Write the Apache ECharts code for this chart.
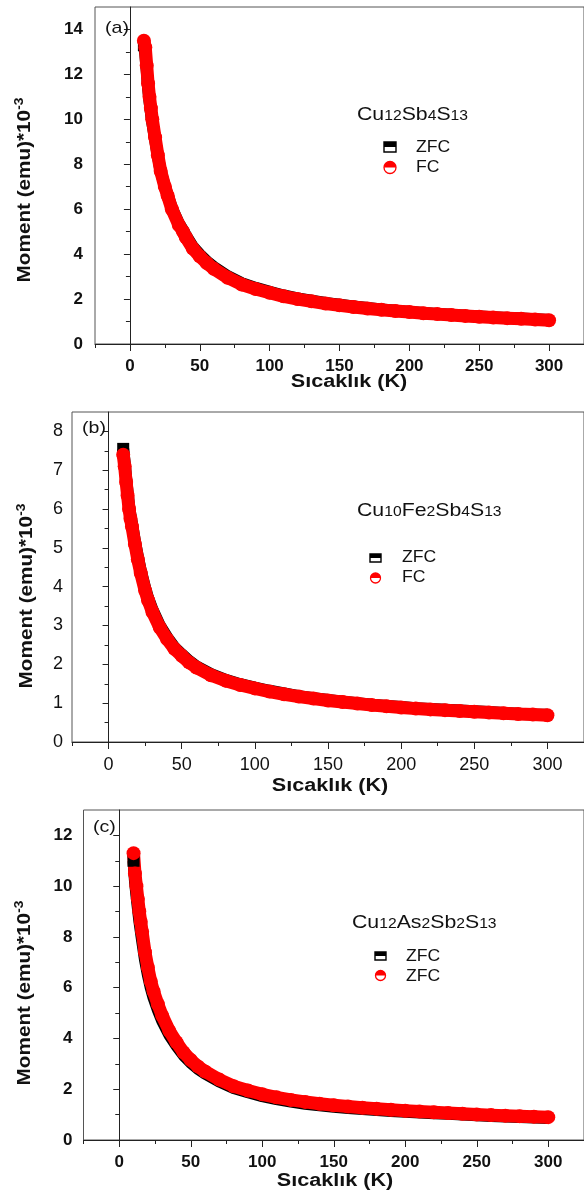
<!DOCTYPE html>
<html lang="en">
<head>
  <meta charset="UTF-8">
  <title>Moment - Sıcaklık</title>
  <script src="https://cdn.jsdelivr.net/npm/echarts@6/dist/echarts.min.js"></script>
  <style>html, body { margin: 0; padding: 0; background: #fff; }</style>
</head>
<body>
  <div id="main" style="width:584px;height:1198px"></div>
  <script>
    // tick values shared by the three panels (temperature, K)
    const xLabels = [0, 50, 100, 150, 200, 250, 300]
    const xMinor = [-25, 25, 75, 125, 175, 225, 275, 325]

    // (a) Cu12Sb4S13
    const tA = [10, 11, 12, 13, 14, 15, 16, 18, 20, 22, 25, 27, 30, 35, 38, 40, 45, 50, 55, 60, 70, 80, 90, 100, 110, 120, 130, 140, 150, 160, 170, 180, 190, 200, 210, 220, 230, 240, 250, 260, 270, 280, 290, 300]
    const zfcA = [13.3, 12.9, 12.2, 11.4, 10.8, 10.3, 9.85, 9.1, 8.35, 7.7, 7.02, 6.64, 6.06, 5.37, 5.07, 4.83, 4.33, 3.98, 3.68, 3.43, 3.02, 2.71, 2.5, 2.32, 2.16, 2.03, 1.93, 1.83, 1.75, 1.67, 1.6, 1.54, 1.48, 1.43, 1.38, 1.34, 1.3, 1.26, 1.22, 1.19, 1.16, 1.13, 1.1, 1.07]
    const fcA = [13.5, 13.2, 12.4, 11.6, 11.0, 10.5, 10.0, 9.2, 8.4, 7.7, 7.0, 6.6, 6.0, 5.3, 5.0, 4.75, 4.25, 3.9, 3.6, 3.35, 2.95, 2.65, 2.45, 2.28, 2.12, 2.0, 1.9, 1.8, 1.72, 1.65, 1.58, 1.52, 1.47, 1.42, 1.37, 1.33, 1.29, 1.25, 1.21, 1.18, 1.15, 1.12, 1.09, 1.06]
    const yLabelsA = [0, 2, 4, 6, 8, 10, 12, 14]
    const yMinorA = [1, 3, 5, 7, 9, 11, 13]

    // (b) Cu10Fe2Sb4S13
    const tB = [10, 11, 12, 13, 14, 15, 16, 18, 20, 22, 25, 27, 30, 35, 40, 45, 50, 55, 60, 70, 80, 90, 100, 110, 120, 130, 140, 150, 160, 170, 180, 190, 200, 210, 220, 230, 240, 250, 260, 270, 280, 290, 300]
    const zfcB = [7.55, 7.2, 6.8, 6.43, 6.08, 5.83, 5.63, 5.18, 4.78, 4.42, 3.97, 3.71, 3.41, 3.0, 2.7, 2.44, 2.26, 2.09, 1.95, 1.75, 1.6, 1.49, 1.4, 1.32, 1.25, 1.18, 1.13, 1.08, 1.04, 1.0, 0.96, 0.93, 0.9, 0.87, 0.85, 0.83, 0.81, 0.79, 0.77, 0.75, 0.73, 0.71, 0.7]
    const fcB = [7.4, 7.1, 6.7, 6.35, 6.0, 5.75, 5.55, 5.1, 4.7, 4.35, 3.9, 3.65, 3.35, 2.95, 2.65, 2.4, 2.22, 2.05, 1.92, 1.72, 1.58, 1.47, 1.38, 1.3, 1.23, 1.17, 1.12, 1.07, 1.03, 0.99, 0.95, 0.92, 0.89, 0.86, 0.84, 0.82, 0.8, 0.78, 0.76, 0.74, 0.72, 0.71, 0.69]
    const yLabelsB = [0, 1, 2, 3, 4, 5, 6, 7, 8]
    const yMinorB = [0.5, 1.5, 2.5, 3.5, 4.5, 5.5, 6.5, 7.5]

    // (c) Cu12As2Sb2S13
    const tC = [10, 11, 12, 13, 14, 15, 16, 18, 20, 22, 24, 27, 30, 35, 40, 45, 50, 55, 60, 70, 80, 90, 100, 110, 120, 130, 140, 150, 160, 170, 180, 190, 200, 210, 220, 230, 240, 250, 260, 270, 280, 290, 300]
    const zfcC = [11.0, 10.2, 9.65, 9.15, 8.65, 8.25, 7.85, 7.1, 6.5, 6.0, 5.6, 5.12, 4.7, 4.14, 3.72, 3.34, 3.05, 2.81, 2.62, 2.3, 2.05, 1.88, 1.73, 1.61, 1.51, 1.43, 1.37, 1.31, 1.26, 1.22, 1.18, 1.14, 1.11, 1.08, 1.05, 1.03, 1.0, 0.97, 0.95, 0.93, 0.91, 0.89, 0.87]
    const fcC = [11.3, 10.5, 10.0, 9.5, 9.0, 8.6, 8.2, 7.4, 6.8, 6.25, 5.85, 5.35, 4.9, 4.3, 3.85, 3.45, 3.15, 2.9, 2.7, 2.38, 2.12, 1.95, 1.8, 1.68, 1.58, 1.5, 1.43, 1.37, 1.32, 1.27, 1.23, 1.19, 1.15, 1.12, 1.09, 1.06, 1.03, 1.0, 0.98, 0.96, 0.94, 0.92, 0.9]
    const yLabelsC = [0, 2, 4, 6, 8, 10, 12]
    const yMinorC = [1, 3, 5, 7, 9, 11]

    const FONT = "'Liberation Sans', Arial, sans-serif"
    const panels = [
      { grid: { left: 95, top: 7, right: -3, bottom: 854 }, yMax: 15, yLab: yLabelsA, yMin: yMinorA,
        bold: true, fs: 17, yMargin: 12, xMargin: 14, t: tA, zfc: zfcA, fc: fcA },
      { grid: { left: 72, top: 412, right: -3, bottom: 456 }, yMax: 8.5, yLab: yLabelsB, yMin: yMinorB,
        bold: false, fs: 18, yMargin: 9, xMargin: 14, t: tB, zfc: zfcB, fc: fcB },
      { grid: { left: 83.5, top: 810, right: -3, bottom: 58 }, yMax: 13, yLab: yLabelsC, yMin: yMinorC,
        bold: true, fs: 17, yMargin: 11, xMargin: 14, t: tC, zfc: zfcC, fc: fcC }
    ]

    const grid = [], xAxis = [], yAxis = [], series = []
    panels.forEach((p, i) => {
      grid.push(Object.assign({ show: true, borderColor: '#555', borderWidth: 1 }, p.grid))
      const lab = { color: '#111', fontFamily: FONT, fontSize: p.fs, fontWeight: p.bold ? 'bold' : 'normal' }
      // main x axis + one with the short in-between ticks
      xAxis.push({
        type: 'value', gridIndex: i, min: -25, max: 325, position: 'bottom',
        axisLine: { lineStyle: { color: '#222', width: 1 } },
        axisTick: { length: 7, customValues: xLabels, lineStyle: { color: '#222' } },
        axisLabel: Object.assign({ customValues: xLabels, margin: p.xMargin }, lab),
        splitLine: { show: false }
      }, {
        type: 'value', gridIndex: i, min: -25, max: 325, position: 'bottom',
        axisLine: { show: false }, axisLabel: { show: false }, splitLine: { show: false },
        axisTick: { length: 4, customValues: xMinor, lineStyle: { color: '#222' } }
      })
      yAxis.push({
        type: 'value', gridIndex: i, min: 0, max: p.yMax, position: 'left',
        axisLine: { show: true, lineStyle: { color: '#222', width: 1 } },
        axisTick: { show: true, length: 6, customValues: p.yLab, lineStyle: { color: '#222' } },
        axisLabel: Object.assign({ customValues: p.yLab, margin: p.yMargin }, lab),
        splitLine: { show: false }
      }, {
        type: 'value', gridIndex: i, min: 0, max: p.yMax, position: 'left', offset: 0,
        axisLine: { show: false }, axisLabel: { show: false }, splitLine: { show: false },
        axisTick: { show: true, length: 4, customValues: p.yMin, lineStyle: { color: '#222' } }
      })
      // ZFC underneath as a thick black band (square marker only at the first point), FC on top in red
      series.push({
        name: 'ZFC', type: 'line', xAxisIndex: i * 2, yAxisIndex: i * 2,
        data: p.t.map((t, k) => k === 0 ? { value: [t, p.zfc[k]], symbol: 'rect' } : [t, p.zfc[k]]),
        symbol: 'none', symbolSize: 12, showAllSymbol: true,
        itemStyle: { color: '#000' },
        lineStyle: { color: '#000', width: 12, join: 'round' }
      }, {
        name: 'FC', type: 'line', xAxisIndex: i * 2, yAxisIndex: i * 2,
        data: p.t.map((t, k) => [t, p.fc[k]]),
        symbol: 'circle', symbolSize: 14, showAllSymbol: true,
        itemStyle: { color: '#ff0000' },
        lineStyle: { color: '#ff0000', width: 13, join: 'round' }
      })
    })

    // texts drawn on top: panel tags, formulas, legends, axis titles
    function txt(x, y, text, size, sx) {
      return {
        type: 'text', x: x, y: y, z: 100, scaleX: sx || 1,
        style: { text: text, fontFamily: FONT, fontSize: size, fill: '#111', textVerticalAlign: 'middle' }
      }
    }
    function formula(x, y, parts) {
      const text = parts.map((s, k) => k % 2 ? '{s|' + s + '}' : '{m|' + s + '}').join('')
      return {
        type: 'text', x: x, y: y, z: 100, scaleX: 1.12,
        style: {
          text: text, fill: '#111', textVerticalAlign: 'middle',
          rich: {
            m: { fontFamily: FONT, fontSize: 19, verticalAlign: 'bottom' },
            s: { fontFamily: FONT, fontSize: 14, verticalAlign: 'bottom', padding: [0, 0, 1, 0] }
          }
        }
      }
    }
    function zfcIcon(x, y, w, h) {
      return { type: 'group', z: 100, children: [
        { type: 'rect', shape: { x: x, y: y, width: w, height: h }, style: { fill: '#fff', stroke: '#000', lineWidth: 1.4 } },
        { type: 'rect', shape: { x: x, y: y, width: w, height: h / 2 }, style: { fill: '#000' } }
      ] }
    }
    function fcIcon(cx, cy, r) {
      return { type: 'group', z: 100, children: [
        { type: 'circle', shape: { cx: cx, cy: cy, r: r }, style: { fill: '#fff', stroke: '#ff0000', lineWidth: 1.3 } },
        { type: 'sector', shape: { cx: cx, cy: cy, r: r, startAngle: Math.PI, endAngle: Math.PI * 2 }, style: { fill: '#ff0000' } }
      ] }
    }
    function yTitle(x, y) {
      return {
        type: 'text', x: x, y: y, rotation: Math.PI / 2, scaleX: 1.15, z: 100,
        style: {
          text: '{m|Moment (emu)*10}{s|-3}', fill: '#111', textAlign: 'center', textVerticalAlign: 'middle',
          rich: {
            m: { fontFamily: FONT, fontSize: 18, fontWeight: 'bold', lineHeight: 22 },
            s: { fontFamily: FONT, fontSize: 12, fontWeight: 'bold', verticalAlign: 'top', lineHeight: 22 }
          }
        }
      }
    }
    function xTitle(x, y) {
      return {
        type: 'text', x: x, y: y, z: 100, scaleX: 1.2,
        style: { text: 'Sıcaklık (K)', fontFamily: FONT, fontSize: 18, fontWeight: 'bold',
          fill: '#111', textAlign: 'center', textVerticalAlign: 'middle' }
      }
    }

    const graphic = [
      txt(105, 28, '(a)', 17, 1.15), txt(82, 428, '(b)', 17, 1.15), txt(93, 827, '(c)', 17, 1.15),
      formula(357, 115, ['Cu', '12', 'Sb', '4', 'S', '13']),
      formula(357, 511, ['Cu', '10', 'Fe', '2', 'Sb', '4', 'S', '13']),
      formula(352, 923, ['Cu', '12', 'As', '2', 'Sb', '2', 'S', '13']),
      zfcIcon(384, 142, 12, 10), fcIcon(390, 167.5, 6),
      txt(416, 148, 'ZFC', 16, 1.1), txt(416, 168, 'FC', 16, 1.1),
      zfcIcon(370, 554, 11, 8), fcIcon(375.5, 578, 5),
      txt(402, 558, 'ZFC', 16, 1.1), txt(402, 578, 'FC', 16, 1.1),
      zfcIcon(375, 952, 11, 8), fcIcon(380.5, 975.5, 5),
      txt(406, 957, 'ZFC', 16, 1.1), txt(406, 977, 'ZFC', 16, 1.1),
      yTitle(25, 190), yTitle(27, 596), yTitle(25, 993),
      xTitle(349, 382), xTitle(330, 786), xTitle(335, 1181)
    ]

    const myChart = echarts.init(document.getElementById('main'))
    myChart.setOption({
      animation: false,
      backgroundColor: '#fff',
      grid: grid,
      xAxis: xAxis,
      yAxis: yAxis,
      series: series,
      graphic: graphic
    })
  </script>
</body>
</html>
